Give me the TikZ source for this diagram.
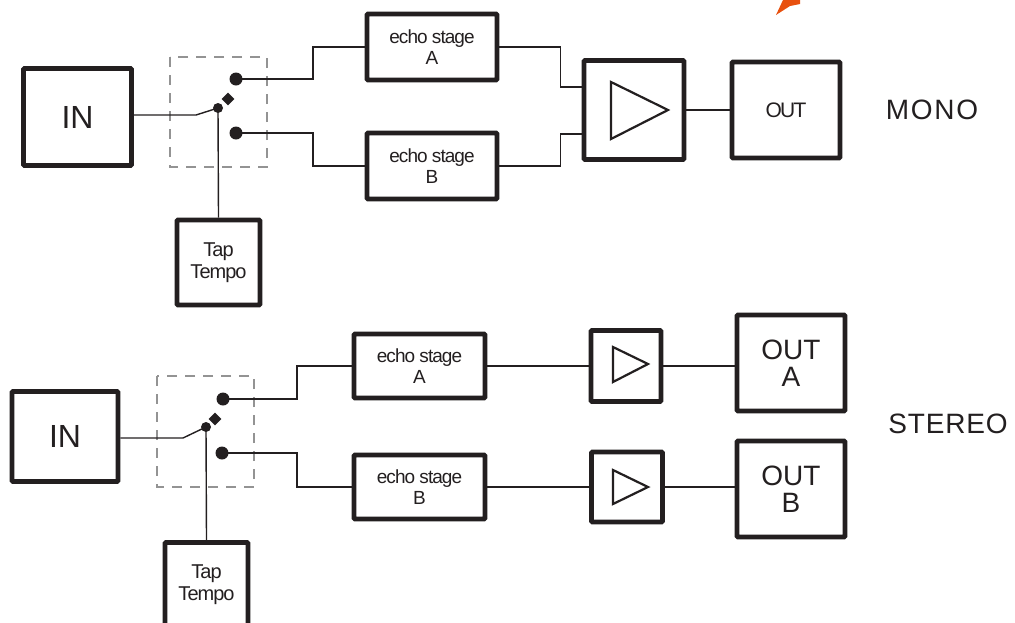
\documentclass[tikz,border=0pt]{standalone}
\usepackage{fontspec}
\setmainfont{Liberation Sans}
\usetikzlibrary{calc}
\definecolor{ink}{HTML}{231F20}
\definecolor{orng}{HTML}{E8500E}
\tikzset{
  blk/.style={draw=ink, line width=4.8pt, rounded corners=1pt, inner sep=0pt, text=ink, align=center, fill=white},
  wire/.style={draw=ink, line width=1.4pt},
  dashbox/.style={draw=gray!85, line width=1.4pt, dash pattern=on 10pt off 8pt},
  tri/.style={draw=ink, line width=2.2pt, line join=miter},
  dotc/.style={circle, fill=ink, inner sep=0pt, minimum size=13pt},
  pivc/.style={circle, fill=ink, inner sep=0pt, minimum size=10pt},
  lever/.style={rectangle, fill=ink, inner sep=0pt, minimum size=9pt, rotate=45},
  lbl/.style={text=ink, inner sep=0pt},
  echofont/.style={font=\fontsize{19}{21}\selectfont\addfontfeature{LetterSpace=-5}},
  tapfont/.style={font=\fontsize{20}{22}\selectfont\addfontfeature{LetterSpace=-5}}
}
\begin{document}
\begin{tikzpicture}[x=1pt,y=-1pt]
\useasboundingbox (0,0) rectangle (1015,622);
\clip (0,0) rectangle (1015,622);
% ===== MONO =====
\draw[dashbox] (170,57) rectangle (267,167);
\node[blk, minimum width=108pt, minimum height=97pt, font=\fontsize{32}{34}\selectfont] (in1) at (77.5,117) {IN};
\node[blk, minimum width=83pt, minimum height=85pt, tapfont] (tap1) at (218.5,262.5) {Tap\\Tempo};
\node[blk, minimum width=130pt, minimum height=66pt, echofont] (ea1) at (432,47) {echo stage\\A};
\node[blk, minimum width=130pt, minimum height=66pt, echofont] (eb1) at (432,166) {echo stage\\B};
\node[blk, minimum width=100pt, minimum height=99pt] (amp1) at (634,110) {};
\node[blk, minimum width=108pt, minimum height=96pt, font=\fontsize{21}{22}\selectfont\addfontfeature{LetterSpace=-8}] (out1) at (786,110) {OUT};
\node[lbl, font=\fontsize{28}{30}\selectfont\addfontfeature{LetterSpace=6}] (mono) at (932,110) {MONO};
\node[dotc] (da1) at (236,79) {};
\node[dotc] (db1) at (236,133) {};
\node[pivc] (pv1) at (218,108) {};
\node[lever] (lv1) at (228,99) {};
\coordinate (k1) at (196,115);
\draw[wire] (in1.east |- k1) -- (k1) -- (pv1.center);
\draw[wire] (pv1.center) -- (tap1.north);
\draw[wire] (da1.center) -- ++(77,0) |- (ea1.west);
\draw[wire] (db1.center) -- ++(77,0) |- (eb1.west);
\draw[wire] (ea1.east) -- ++(61,0) |- ($(amp1.west)+(0,-23)$);
\draw[wire] (eb1.east) -- ++(61,0) |- ($(amp1.west)+(0,24)$);
\draw[wire] (amp1.east) -- (out1.west);
\draw[tri] (611,82) -- (611,139) -- (668,110) -- cycle;
% ===== STEREO =====
\draw[dashbox] (157,376) rectangle (254,487);
\node[blk, minimum width=106pt, minimum height=90pt, font=\fontsize{32}{34}\selectfont] (in2) at (65,436.5) {IN};
\node[blk, minimum width=83pt, minimum height=85pt, anchor=north, tapfont] (tap2) at (206.5,540) {Tap\\Tempo};
\node[blk, minimum width=131pt, minimum height=64pt, echofont] (ea2) at (419.5,366) {echo stage\\A};
\node[blk, minimum width=131pt, minimum height=64pt, echofont] (eb2) at (419.5,487) {echo stage\\B};
\node[blk, minimum width=70pt, minimum height=71pt] (amp2a) at (626,366) {};
\node[blk, minimum width=71pt, minimum height=70pt] (amp2b) at (627,487) {};
\node[blk, minimum width=108pt, minimum height=96pt, font=\fontsize{28}{27}\selectfont] (out2a) at (791,363) {OUT\\A};
\node[blk, minimum width=108pt, minimum height=96pt, font=\fontsize{28}{27}\selectfont] (out2b) at (791,489) {OUT\\B};
\node[lbl, font=\fontsize{28}{30}\selectfont\addfontfeature{LetterSpace=3}] (stereo) at (948,424) {STEREO};
\node[dotc] (da2) at (223,399) {};
\node[dotc] (db2) at (222,453) {};
\node[pivc] (pv2) at (206,427) {};
\node[lever] (lv2) at (215,419) {};
\coordinate (k2) at (183,438);
\draw[wire] (in2.east |- k2) -- (k2) -- (pv2.center);
\draw[wire] (pv2.center) -- (tap2.north);
\draw[wire] (da2.center) -- ++(74,0) |- (ea2.west);
\draw[wire] (db2.center) -- ++(75,0) |- (eb2.west);
\draw[wire] (ea2.east) -- (amp2a.west);
\draw[wire] (eb2.east) -- (amp2b.west);
\draw[wire] (amp2a.east) -- (amp2a.east -| out2a.west);
\draw[wire] (amp2b.east) -- (amp2b.east -| out2b.west);
\draw[tri] (613,347) -- (613,382) -- (648,364) -- cycle;
\draw[tri] (613,470) -- (613,504) -- (648,487) -- cycle;
% orange fragment
\fill[orng] (776,15) -- (783,0) -- (800,0) -- (800,4) -- (790,6) -- cycle;
\end{tikzpicture}
\end{document}
